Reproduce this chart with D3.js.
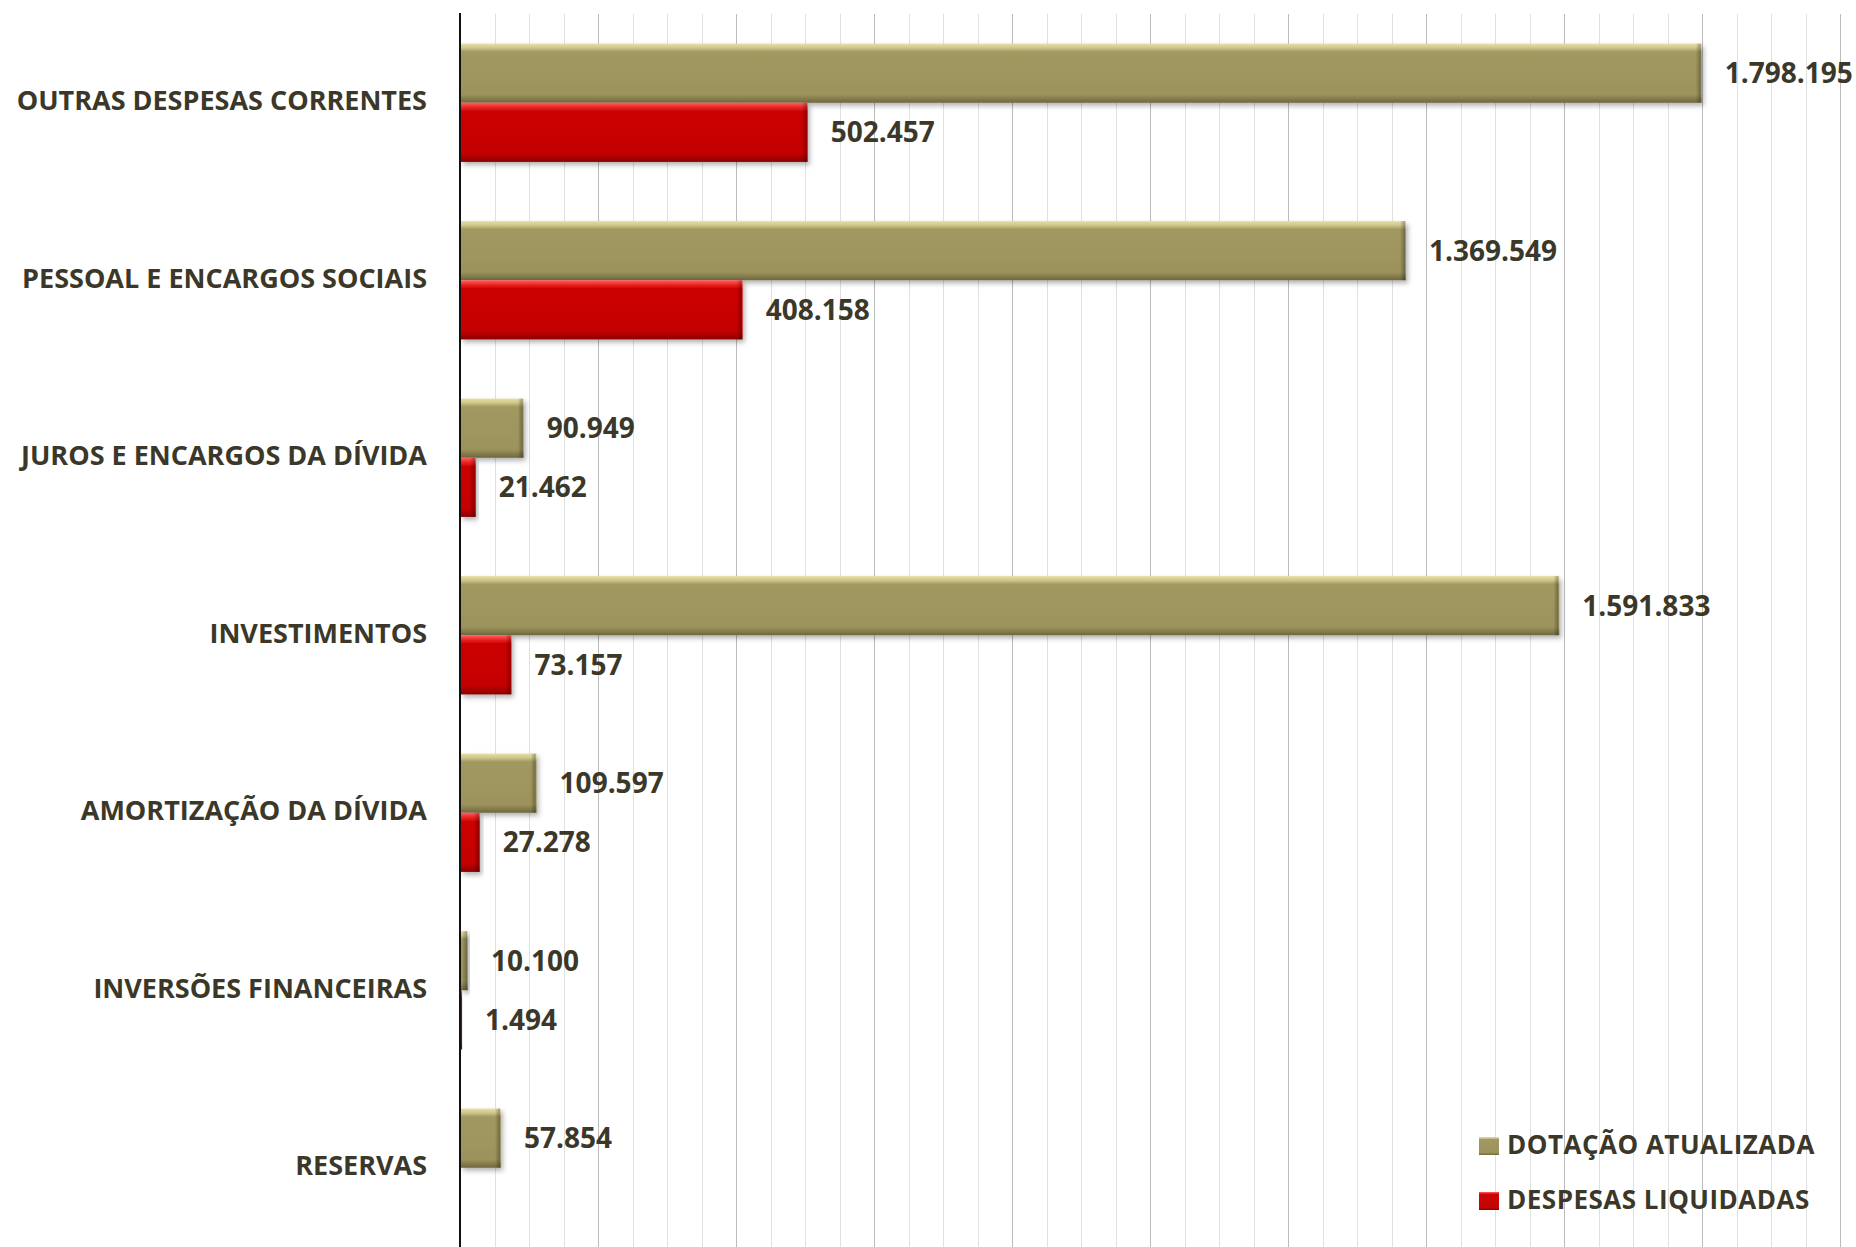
<!DOCTYPE html>
<html>
<head>
<meta charset="utf-8">
<script src="https://d3js.org/d3.v7.min.js"></script>
<style>
    body { margin: 0; background: #fff; }
    svg { display: block; font-family: "Open Sans", "DejaVu Sans", sans-serif; }
    .grid line { shape-rendering: crispEdges; }
    .grid .domain { stroke: none; }
    .cat { font-size: 27px; font-weight: 700; fill: #3b3829; }
    .value { font-size: 28px; font-weight: 700; fill: #3b3829; }
    .legend text { font-size: 26px; font-weight: 700; fill: #3b3829; letter-spacing: 0.5px; }
</style>
</head>
<body>
<svg id="chart" width="1856" height="1247"></svg>
<script>
    // data
    const categories = ["OUTRAS DESPESAS CORRENTES", "PESSOAL E ENCARGOS SOCIAIS", "JUROS E ENCARGOS DA DÍVIDA",
        "INVESTIMENTOS", "AMORTIZAÇÃO DA DÍVIDA", "INVERSÕES FINANCEIRAS", "RESERVAS"];
    const dotacao = [1798195, 1369549, 90949, 1591833, 109597, 10100, 57854];
    const despesas = [502457, 408158, 21462, 73157, 27278, 1494, null];
    const seriesNames = ["DOTAÇÃO ATUALIZADA", "DESPESAS LIQUIDADAS"];
    const xMax = 2000000;

    const svg = d3.select("#chart");
    const width = +svg.attr("width");
    const height = +svg.attr("height");
    const margin = { top: 14, left: 460, right: 16 };

    const br = d3.formatLocale({ decimal: ",", thousands: ".", grouping: [3], currency: ["R$", ""] });
    const fmt = br.format(",d");

    const x = d3.scaleLinear().domain([0, xMax]).range([margin.left, width - margin.right]);
    const y0 = d3.scaleBand().domain(categories).range([margin.top, margin.top + 7 * 177.5]);
    const y1 = d3.scaleBand().domain(seriesNames).range([0, y0.bandwidth()]).paddingOuter(0.5).paddingInner(0);

    // gradients for the bevelled bars
    const defs = svg.append("defs");
    const palettes = {
        gold: ["#e8dfa6", "#cfc68a", "#a19862", "#9c935c", "#6e673f"],
        red: ["#ff6060", "#f02828", "#cc0606", "#c40404", "#8a0000"]
    };
    Object.entries(palettes).forEach(([k, c]) => {
        const g = defs.append("linearGradient").attr("id", "g-" + k)
            .attr("x1", 0).attr("y1", 0).attr("x2", 0).attr("y2", 1);
        [[0, c[0]], [0.07, c[1]], [0.14, c[2]], [0.86, c[3]], [1, c[4]]].forEach(s =>
            g.append("stop").attr("offset", s[0]).attr("stop-color", s[1]));
    });
    const edge = defs.append("linearGradient").attr("id", "g-edge")
        .attr("x1", 0).attr("y1", 0).attr("x2", 1).attr("y2", 0);
    edge.append("stop").attr("offset", 0).attr("stop-color", "#000").attr("stop-opacity", 0);
    edge.append("stop").attr("offset", 1).attr("stop-color", "#000").attr("stop-opacity", 0.3);
    const shadow = defs.append("filter").attr("id", "shadow")
        .attr("x", "-10%").attr("y", "-20%").attr("width", "130%").attr("height", "150%");
    shadow.append("feDropShadow").attr("dx", 2).attr("dy", 3).attr("stdDeviation", 2.5)
        .attr("flood-color", "#000").attr("flood-opacity", 0.3);

    const color = d3.scaleOrdinal().domain(seriesNames).range(["url(#g-gold)", "url(#g-red)"]);

    // gridlines: minor then major
    svg.append("g").attr("class", "grid")
        .attr("transform", `translate(0,${margin.top})`)
        .call(d3.axisBottom(x).ticks(50).tickSize(height - margin.top).tickFormat(""))
        .selectAll("line").attr("stroke", "#e0e0e0");
    svg.append("g").attr("class", "grid")
        .attr("transform", `translate(0,${margin.top})`)
        .call(d3.axisBottom(x).ticks(10).tickSize(height - margin.top).tickFormat(""))
        .selectAll("line").attr("stroke", "#bbbbbb");

    // bars
    const rows = categories.map((c, i) => ({ cat: c, vals: [dotacao[i], despesas[i]] }));
    const groups = svg.append("g").selectAll("g").data(rows).join("g")
        .attr("transform", d => `translate(0,${y0(d.cat)})`);

    const bars = groups.selectAll("g.bar")
        .data(d => d.vals.map((v, j) => ({ key: seriesNames[j], v: v })).filter(e => e.v != null))
        .join("g").attr("class", "bar");

    bars.append("rect")
        .attr("x", x(0) + 1)
        .attr("y", d => y1(d.key))
        .attr("width", d => Math.max(1, x(d.v) - x(0)))
        .attr("height", y1.bandwidth())
        .attr("fill", d => color(d.key))
        .attr("filter", "url(#shadow)");
    bars.append("rect")
        .attr("x", d => Math.max(x(0) + 1, x(d.v) - 5))
        .attr("y", d => y1(d.key))
        .attr("width", d => Math.min(5, x(d.v) - x(0)))
        .attr("height", y1.bandwidth())
        .attr("fill", "url(#g-edge)");

    bars.append("text")
        .attr("class", "value")
        .attr("x", d => x(d.v) + 24)
        .attr("y", d => y1(d.key) + y1.bandwidth() / 2)
        .attr("dy", "0.36em")
        .text(d => fmt(d.v));

    // axis line
    svg.append("line")
        .attr("x1", x(0)).attr("x2", x(0))
        .attr("y1", margin.top - 1).attr("y2", height)
        .attr("stroke", "#111").attr("stroke-width", 2);

    // category labels
    svg.append("g").selectAll("text").data(categories).join("text")
        .attr("class", "cat")
        .attr("x", x(0) - 33)
        .attr("y", d => y0(d) + y0.bandwidth() / 2 - 2)
        .attr("dy", "0.36em")
        .attr("text-anchor", "end")
        .text(d => d);

    // legend
    const legend = svg.append("g").attr("class", "legend")
        .attr("transform", "translate(1479,1137)");
    const items = legend.selectAll("g").data(seriesNames).join("g")
        .attr("transform", (d, i) => `translate(0,${i * 55})`);
    items.append("rect")
        .attr("width", 20).attr("height", 18)
        .attr("fill", d => color(d));
    items.append("text")
        .attr("x", 28).attr("y", 17)
        .text(d => d);
</script>
</body>
</html>
